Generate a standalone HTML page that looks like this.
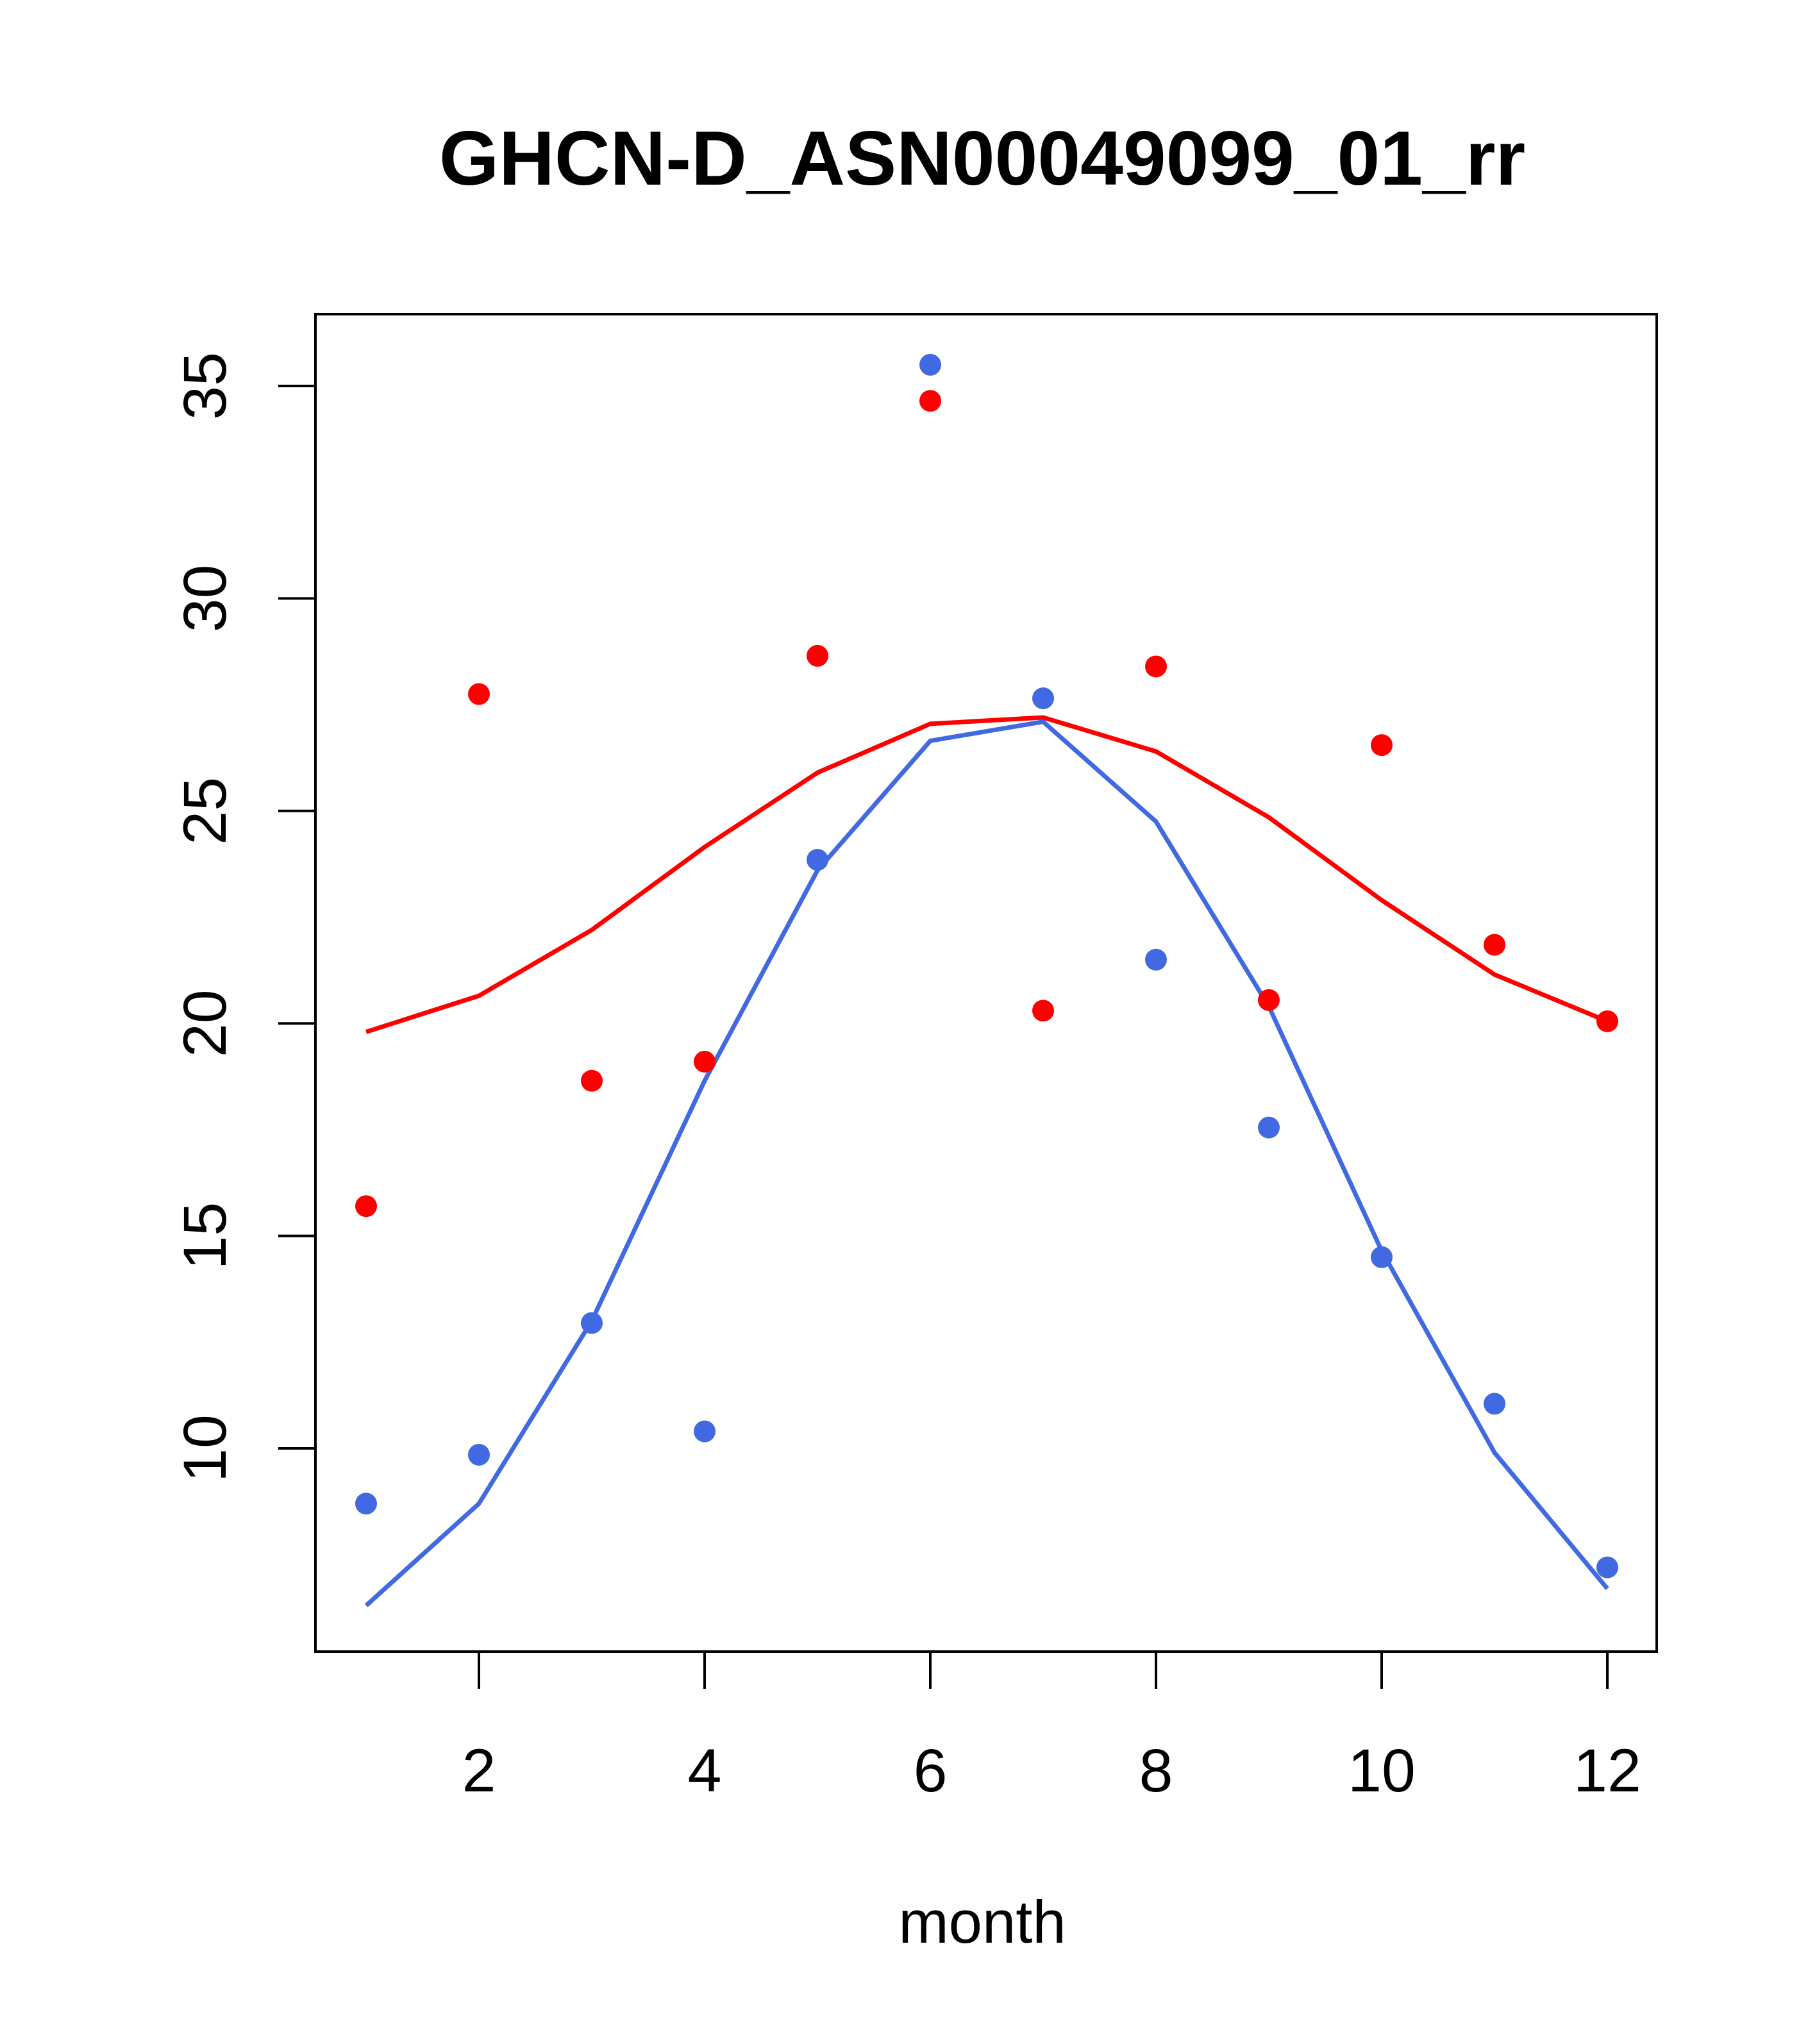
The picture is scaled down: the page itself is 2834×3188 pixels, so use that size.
<!DOCTYPE html>
<html><head><meta charset="utf-8"><style>
html,body{margin:0;padding:0;background:#fff;}
svg{display:block;font-family:"Liberation Sans",Arial,sans-serif;}
</style></head><body>
<svg id="chart" width="2834" height="3188" viewBox="0 0 2834 3188" xmlns="http://www.w3.org/2000/svg">
<text x="1532" y="288" font-size="120" font-weight="bold" text-anchor="middle">GHCN-D_ASN00049099_01_rr</text>
<rect x="492" y="490" width="2092" height="2086" fill="none" stroke="#000" stroke-width="4"/>
<text x="1532" y="3030" font-size="94" text-anchor="middle">month</text>
<g id="xaxis"></g>
<g id="yaxis"></g>
<g id="series"></g>
</svg>
<script>
const months=[1,2,3,4,5,6,7,8,9,10,11,12];
const redPoints=[15.7,27.75,18.65,19.1,28.65,34.65,20.3,28.4,20.55,26.55,21.85,20.05];
const redLine=[19.8,20.65,22.2,24.15,25.9,27.05,27.2,26.4,24.85,22.9,21.15,20.05];
const bluePoints=[8.7,9.85,12.95,10.4,23.85,35.5,27.65,21.5,17.55,14.5,11.05,7.2];
const blueLine=[6.3,8.7,13.0,18.65,23.6,26.65,27.1,24.75,20.4,14.65,9.9,6.7];
const xTicks=[2,4,6,8,10,12];
const yTicks=[10,15,20,25,30,35];
const NS="http://www.w3.org/2000/svg";
function xs(m){return 747+(m-2)*176.0;}
function ys(v){return 2259-(v-10)*66.28;}
function mk(tag,attrs,parent){const e=document.createElementNS(NS,tag);for(const k in attrs)e.setAttribute(k,attrs[k]);parent.appendChild(e);return e;}
const xa=document.getElementById('xaxis'),ya=document.getElementById('yaxis'),se=document.getElementById('series');
mk('line',{x1:xs(2),x2:xs(12),y1:2576,y2:2576,stroke:'#000','stroke-width':4},xa);
xTicks.forEach(t=>{
  const l=mk('line',{x1:xs(t),x2:xs(t),y1:2576,y2:2634,stroke:'#000','stroke-width':4},xa);
  
  
  const tx=mk('text',{x:xs(t),y:2794,'font-size':95,'text-anchor':'middle'},xa);
  tx.textContent=t;
  
  
});
yTicks.forEach(t=>{
  const l=mk('line',{x1:434,x2:492,y1:ys(t),y2:ys(t),stroke:'#000','stroke-width':4},ya);
  
  
  const tx=mk('text',{x:0,y:0,'font-size':95,'text-anchor':'middle',transform:`translate(352,${ys(t)}) rotate(-90)`},ya);
  tx.textContent=t;
  
  
});
function line(vals,color,name){
  const p=mk('polyline',{points:vals.map((v,i)=>xs(months[i])+','+ys(v)).join(' '),fill:'none',stroke:color,'stroke-width':7},se);
  
  
}
function pts(vals,color,name){
  vals.forEach((v,i)=>{
    const c=mk('circle',{cx:xs(months[i]),cy:ys(v),r:17,fill:color},se);
    
    
  });
}
line(redLine,'#ff0000','red-line');
line(blueLine,'#4169e1','blue-line');
pts(redPoints,'#ff0000','red-point');
pts(bluePoints,'#4169e1','blue-point');
</script>
</body></html>
